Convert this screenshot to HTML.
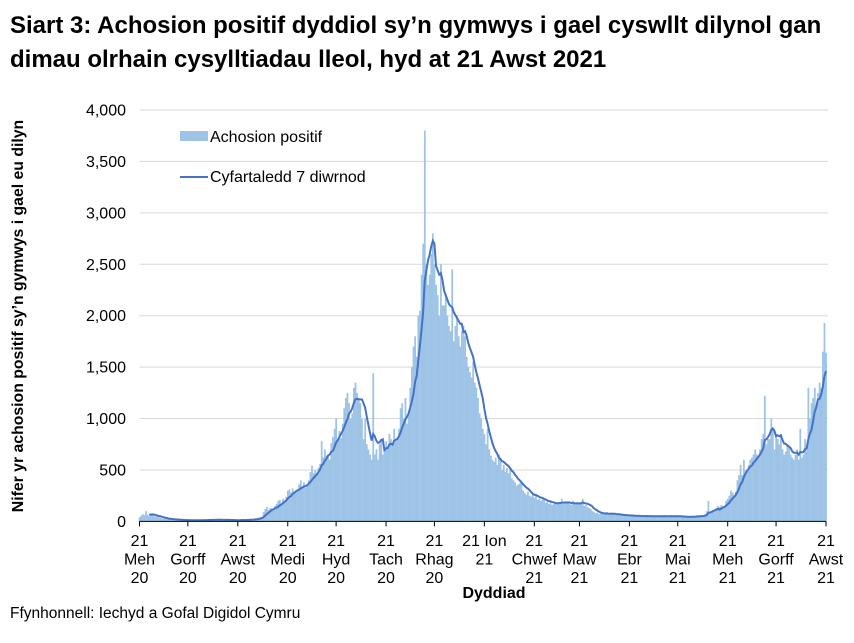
<!DOCTYPE html>
<html><head><meta charset="utf-8"><style>
body{margin:0;background:#fff;width:854px;height:638px;overflow:hidden;font-family:"Liberation Sans",Arial,sans-serif}
svg text{font-family:"Liberation Sans",Arial,sans-serif}
</style></head><body>
<svg id="chart" width="854" height="638" xmlns="http://www.w3.org/2000/svg">
<text x="10" y="33" font-size="24" font-weight="bold" fill="#000">Siart 3: Achosion positif dyddiol sy’n gymwys i gael cyswllt dilynol gan</text>
<text x="10" y="67" font-size="24" font-weight="bold" fill="#000">dimau olrhain cysylltiadau lleol, hyd at 21 Awst 2021</text>
<g id="grid"></g>
<g id="bars"></g>
<path id="avg" fill="none" stroke="#4472C4" stroke-width="2"></path>
<g id="axes"></g>
<text transform="translate(23,316) rotate(-90)" text-anchor="middle" font-size="15.8" font-weight="bold">Nifer yr achosion positif sy’n gymwys i gael eu dilyn</text>
<text x="494" y="598" text-anchor="middle" font-size="16" font-weight="bold">Dyddiad</text>
<text x="10" y="618" font-size="15.5">Ffynhonnell: Iechyd a Gofal Digidol Cymru</text>
<g>
<rect x="180" y="131" width="28" height="10" fill="#9DC3E6"></rect>
<text x="210" y="142" font-size="16">Achosion positif</text>
<line x1="180" y1="177" x2="208" y2="177" stroke="#4472C4" stroke-width="2"></line>
<text x="210" y="182" font-size="16">Cyfartaledd 7 diwrnod</text>
</g>
</svg>
<script>
const dailyCases = [
40,55,70,60,100,65,50, 70,60,55,45,50,40,35, 30,25,28,20,22,25,20, 15,18,12,14,16,10,15,
12,10,14,11,13,9,12, 10,14,12,15,11,13,10, 15,18,12,20,14,16,12, 14,20,12,16,15,18,10,
12,10,15,11,14,12,10, 14,18,12,16,15,20,12, 20,25,30,28,35,40,45, 90,120,140,110,130,125,105,
150,170,200,210,180,220,200, 240,300,310,280,320,290,300, 300,360,400,340,380,330,350,
400,480,540,470,500,450,520, 560,780,620,700,640,650,600, 760,820,900,1000,780,880,810,
950,1100,1200,1250,1150,1000,1050, 1300,1350,1250,1200,1150,1000,800, 1000,750,700,650,600,1440,650,
700,600,750,800,650,700,780, 700,850,800,750,900,780,820, 900,1100,1150,1000,1200,950,1050,
1300,1500,1700,1800,1600,2000,2050, 2400,2700,3800,2500,2300,2400,2600, 2800,2500,2300,2200,2000,2500,2100,
2100,2200,2000,1900,1850,2450,1750, 1900,2000,1800,1700,1850,1900,1800, 1600,1500,1450,1400,1550,1350,1300,
1200,1050,1000,900,850,750,900, 700,640,600,580,620,550,650, 600,500,550,480,520,470,510,
420,400,380,350,360,370,380, 300,280,260,290,250,240,270, 230,250,210,220,200,210,220,
180,190,170,200,160,170,180, 170,180,190,220,170,180,175, 180,170,160,200,175,165,180,
170,180,220,150,160,140,130, 120,100,90,80,85,70,75, 80,70,75,90,65,70,80,
70,65,60,75,60,55,65, 55,60,50,65,55,50,52, 50,55,60,45,50,55,48,
52,48,55,50,45,55,50, 50,45,60,48,52,50,45, 48,55,50,45,60,50,42,
45,40,50,42,48,40,45, 45,50,55,60,40,55,45, 60,70,100,200,80,90,110,
100,130,150,140,160,150,150, 200,220,250,300,280,260,290, 400,450,550,450,600,500,480,
550,600,620,650,700,650,620, 700,800,850,1220,750,800,800, 1000,900,700,850,800,750,850,
700,650,680,750,720,650,620, 600,650,700,600,900,620,650, 800,720,1300,1000,1150,1200,1300,
1100,1250,1350,1300,1650,1930,1640
];
const yTicks = [0,500,1000,1500,2000,2500,3000,3500,4000];
const yTickLabels = ["0","500","1,000","1,500","2,000","2,500","3,000","3,500","4,000"];
const xTickDays = [0,30,61,92,122,153,183,214,245,273,304,334,365,395,426];
const xLabelLine1 = ["21","21","21","21","21","21","21","21 Ion","21","21","21","21","21","21","21"];
const xLabelLine2 = ["Meh","Gorff","Awst","Medi","Hyd","Tach","Rhag","21","Chwef","Maw","Ebr","Mai","Meh","Gorff","Awst"];
const xLabelLine3 = ["20","20","20","20","20","20","20","","21","21","21","21","21","21","21"];

const NS="http://www.w3.org/2000/svg";
const X0=139.5,X1=826,Y0=521.4,Y4=110,NDAYS=426;
function xs(d){return X0+d*(X1-X0)/NDAYS;}
function ys(v){return Y0-v*(Y0-Y4)/4000;}
function mk(tag,attrs,parent){const e=document.createElementNS(NS,tag);for(const k in attrs)e.setAttribute(k,attrs[k]);parent.appendChild(e);return e;}
const grid=document.getElementById('grid'),bars=document.getElementById('bars'),axes=document.getElementById('axes');
yTicks.forEach((t,i)=>{
  if(t>0){const l=mk('line',{x1:X0,x2:X1+2,y1:ys(t),y2:ys(t),stroke:'#d9d9d9','stroke-width':1},grid);
  
  }
  const tx=mk('text',{x:126,y:ys(t)+5.5,'text-anchor':'end','font-size':16},axes);
  tx.textContent=yTickLabels[i];
  
  
});
const bw=(X1-X0)/NDAYS;
dailyCases.forEach((v,d)=>{
  const r=mk('rect',{x:xs(d)-bw/2,y:ys(v),width:bw+0.15,height:Y0-ys(v),fill:'#9DC3E6'},bars);
  
  
});
let pts=[];
for(let d=6;d<dailyCases.length;d++){
  let s=0;for(let k=d-6;k<=d;k++)s+=dailyCases[k];
  pts.push((pts.length?'L':'M')+xs(d).toFixed(1)+','+ys(s/7).toFixed(1));
}
document.getElementById('avg').setAttribute('d',pts.join(' '));
const ax=mk('line',{x1:X0,x2:X1,y1:Y0,y2:Y0,stroke:'#000','stroke-width':1},axes);


xTickDays.forEach((d,i)=>{
  const x=xs(d);
  const tk=mk('line',{x1:x,x2:x,y1:Y0,y2:Y0+5,stroke:'#000'},axes);
  
  
  [xLabelLine1[i],xLabelLine2[i],xLabelLine3[i]].forEach((s,j)=>{
    if(!s)return;
    const t=mk('text',{x:x,y:546+j*18.5,'text-anchor':'middle','font-size':16},axes);
    t.textContent=s;
    
    
  });
});
</script>
</body></html>
